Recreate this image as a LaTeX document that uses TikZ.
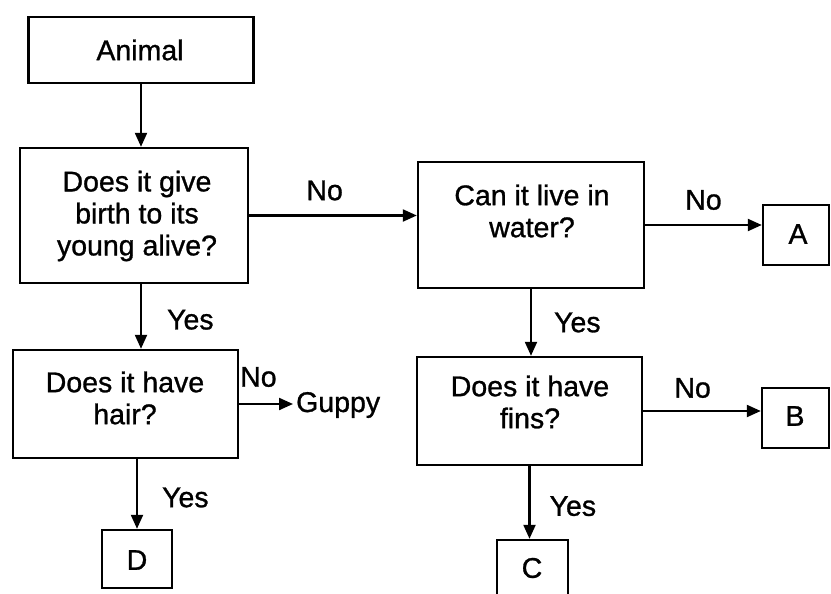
\documentclass[tikz,border=0pt]{standalone}
\usepackage{fontspec}
\setmainfont[FakeBold=1]{Liberation Sans}
\usetikzlibrary{arrows.meta}
\begin{document}
\begin{tikzpicture}[x=1pt,y=-1pt,
  box/.style={draw, line width=2.4pt, inner sep=0pt},
  txt/.style={font=\fontsize{28.5}{32}\selectfont, align=center, inner sep=0pt},
  arr/.style={line width=2.2pt, -{Triangle[length=14pt,width=12pt]}}]
\useasboundingbox (0,0) rectangle (831,594);
\clip (0,0) rectangle (831,594);
% boxes
\node[box, minimum width=225pt, minimum height=66pt] (animal) at (141,50) {};
\node[box, minimum width=228pt, minimum height=135pt] (birth) at (134,215.5) {};
\node[box, minimum width=226pt, minimum height=126pt] (water) at (531,225) {};
\node[box, minimum width=66pt, minimum height=60pt] (A) at (796,235) {};
\node[box, minimum width=225pt, minimum height=108pt] (hair) at (125.5,404) {};
\node[box, minimum width=225pt, minimum height=108pt] (fins) at (529.5,411) {};
\node[box, minimum width=67pt, minimum height=60pt] (B) at (795.5,418) {};
\node[box, minimum width=70pt, minimum height=58pt] (D) at (137,559) {};
\node[box, minimum width=71pt, minimum height=80pt] (C) at (532.5,580) {};
% texts
\node[txt] (animalT) at (140,50) {Animal};
\node[txt] (birthT) at (137,216) {Does it give\\birth to its\\young alive?};
\node[txt] (waterT) at (532,211) {Can it live in\\water?};
\node[txt] (AT) at (798,234) {A};
\node[txt] (hairT) at (125,398) {Does it have\\hair?};
\node[txt] (finsT) at (530,402) {Does it have\\fins?};
\node[txt] (BT) at (795,416) {B};
\node[txt] (DT) at (137,560) {D};
\node[txt] (CT) at (532,568) {C};
\node[txt, anchor=west] (guppy) at (296,405) {Guppy};
% connectors
\draw[arr] (animal.south) -- (animal.south |- birth.north);
\draw[arr] (birth.east) -- (water.west |- birth.east) node[txt, pos=0.45, above=14pt] (no1) {No};
\draw[arr] (water.east) -- (water.east -| A.west) node[txt, pos=0.5, above=14pt] (no2) {No};
\draw[arr] (birth.south -| animal.south) -- (hair.north -| animal.south) node[txt, pos=0.55, right=25pt] (yes1) {Yes};
\draw[arr] (water.south) -- (water.south |- fins.north) node[txt, pos=0.5, right=22pt] (yes2) {Yes};
\draw[arr] (hair.east) -- ([xshift=-3pt]guppy.west |- hair.east);
\node[txt, anchor=west] (no3) at (240,377) {No};
\draw[arr] (hair.south -| D.north) -- (D.north) node[txt, pos=0.55, right=24pt] (yes3) {Yes};
\draw[arr] (fins.east) -- (fins.east -| B.west) node[txt, pos=0.42, above=12pt] (no4) {No};
\draw[arr] (fins.south) -- (fins.south |- C.north) node[txt, pos=0.55, right=19pt] (yes4) {Yes};
\end{tikzpicture}
\end{document}
